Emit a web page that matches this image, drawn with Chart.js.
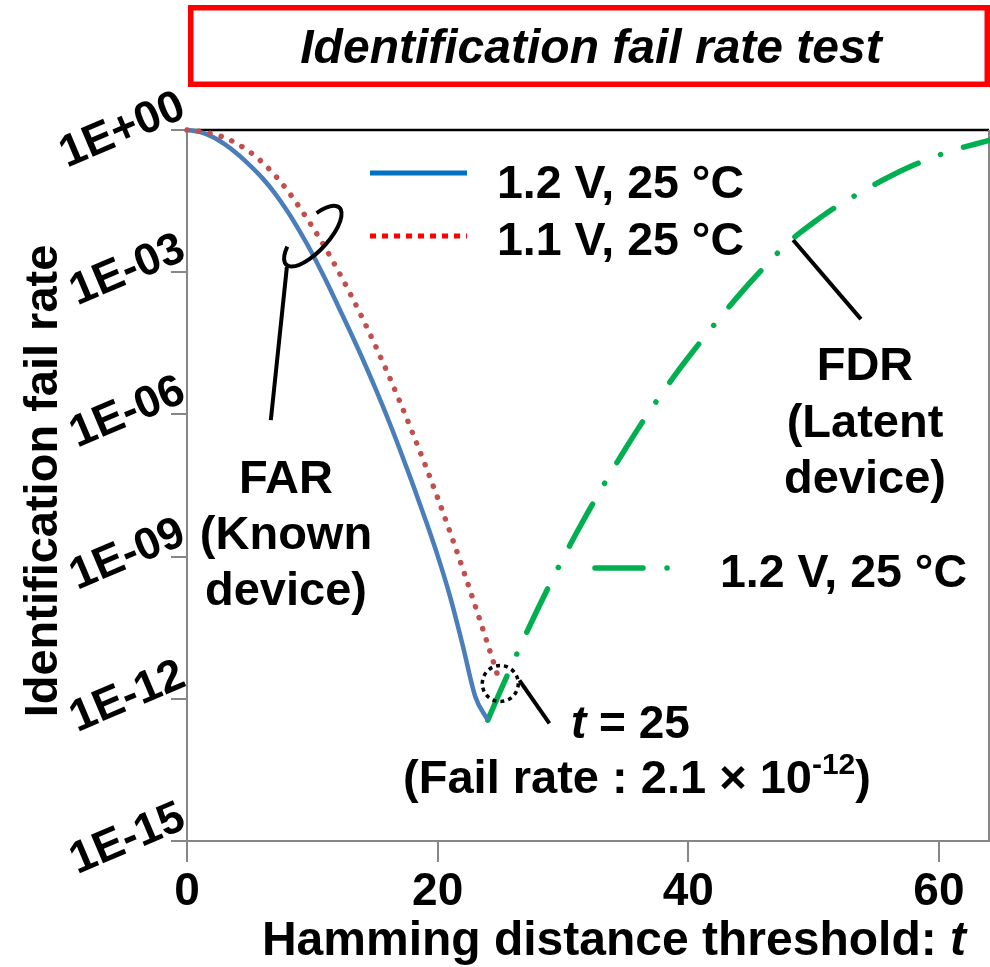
<!DOCTYPE html>
<html><head><meta charset="utf-8">
<script src="https://cdn.jsdelivr.net/npm/chart.js@4"></script>
<style>html,body{margin:0;padding:0;background:#fff;}canvas{display:block;}</style>
</head><body>
<canvas id="c" width="990" height="967"></canvas>
<script>
// ---- data (fail rates stored as log10 values) ----
const tFar12   = [0,1,2,3,4,5,6,7,8,9,10,11,12,13,14,15,16,17,18,19,20,21,22,23,24];
const logFar12 = [0,-0.04,-0.14,-0.3,-0.5,-0.74,-1.01,-1.33,-1.71,-2.14,-2.61,-3.13,-3.68,-4.24,-4.82,-5.43,-6.07,-6.75,-7.46,-8.2,-8.98,-9.85,-10.87,-11.95,-12.45];
const tFar11   = [0,1,2,3,4,5,6,7,8,9,10,11,12,13,14,15,16,17,18,19,20,21,22,23,24,25];
const logFar11 = [0,-0.03,-0.08,-0.16,-0.29,-0.46,-0.68,-0.95,-1.27,-1.64,-2.04,-2.47,-2.94,-3.44,-3.97,-4.53,-5.12,-5.74,-6.39,-7.06,-7.76,-8.49,-9.25,-10.04,-10.85,-11.68];
const tFdr12   = [24,25,26,27,28,29,30,31,32,33,34,35,36,37,38,39,40,41,42,43,44,45,46,47,48,49,50,51,52,53,54,55,56,57,58,59,60,61,62,63,64];
const logFdr12 = [-12.45,-11.84,-11.24,-10.66,-10.1,-9.56,-9.04,-8.54,-8.06,-7.6,-7.15,-6.72,-6.3,-5.9,-5.52,-5.15,-4.8,-4.46,-4.13,-3.81,-3.5,-3.2,-2.91,-2.63,-2.37,-2.15,-1.95,-1.76,-1.59,-1.43,-1.28,-1.13,-0.99,-0.86,-0.74,-0.63,-0.53,-0.44,-0.36,-0.29,-0.22];
const xTickValues = [0,20,40,60];
const xTickLabels = ['0','20','40','60'];
const yTickValues = [1,1e-3,1e-6,1e-9,1e-12,1e-15];
const yTickLabels = ['1E+00','1E-03','1E-06','1E-09','1E-12','1E-15'];
const seriesNames = ['1.2 V, 25 °C','1.1 V, 25 °C','1.2 V, 25 °C'];
const markT = 25, markRate = 2.1e-12;

const FONT = '"Liberation Sans", Arial, Helvetica, sans-serif';
const toPts = (ts, lg) => ts.map((t,i)=>({x:t, y:Math.pow(10, lg[i])}));

function seg(ctx,x1,y1,x2,y2){ctx.beginPath();ctx.moveTo(x1,y1);ctx.lineTo(x2,y2);ctx.stroke();}

const frame = {
  id:'frame',
  beforeDatasetsDraw(chart){
    const {ctx, chartArea:a} = chart;
    ctx.save();
    ctx.strokeStyle='#000'; ctx.lineWidth=2.5; seg(ctx,a.left,a.top,a.right,a.top);
    ctx.strokeStyle='#868686'; ctx.lineWidth=2; seg(ctx,a.right,a.top,a.right,a.bottom);
    ctx.restore();
  }
};

const annot = {
  id:'annot',
  afterDraw(chart){
    const {ctx, chartArea:a, scales:{x,y}} = chart;
    const P = (t, lg) => [x.getPixelForValue(t), y.getPixelForValue(Math.pow(10, lg))];
    ctx.save();
    ctx.fillStyle='#000';
    // Title box
    ctx.strokeStyle='#FF0000'; ctx.lineWidth=5.5;
    ctx.strokeRect(190.75,7.75,796.5,76.5);
    ctx.font='italic bold 48px '+FONT; ctx.textAlign='center'; ctx.textBaseline='alphabetic';
    ctx.fillText('Identification fail rate test', 591, 63);

    // Y axis title
    ctx.save(); ctx.translate(57,481); ctx.rotate(-Math.PI/2);
    ctx.font='bold 47px '+FONT; ctx.textAlign='center'; ctx.fillText('Identification fail rate',0,0);
    ctx.restore();

    // Y tick labels (rotated)
    ctx.font='bold 45px '+FONT;
    yTickValues.forEach((v,i)=>{
      const py = y.getPixelForValue(v);
      ctx.save(); ctx.translate(a.left-4, py-25); ctx.rotate(-23*Math.PI/180);
      ctx.textAlign='right'; ctx.textBaseline='middle';
      ctx.fillText(yTickLabels[i],0,0); ctx.restore();
    });

    // X tick labels
    ctx.font='bold 46px '+FONT; ctx.textAlign='center'; ctx.textBaseline='alphabetic';
    xTickValues.forEach((v,i)=>{ ctx.fillText(xTickLabels[i], x.getPixelForValue(v), 905); });

    // X title
    ctx.textAlign='left';
    const s1='Hamming distance threshold: ';
    ctx.font='bold 48px '+FONT; const w1=ctx.measureText(s1).width;
    ctx.font='italic bold 48px '+FONT; const w2=ctx.measureText('t').width;
    const x0 = 966 - w1 - w2;
    ctx.font='bold 48px '+FONT; ctx.fillText(s1,x0,955);
    ctx.font='italic bold 48px '+FONT; ctx.fillText('t',x0+w1,955);

    // Legend (upper)
    ctx.lineCap='butt';
    ctx.strokeStyle='#0070C0'; ctx.lineWidth=5; ctx.setLineDash([]); seg(ctx,370,173,467,173);
    ctx.strokeStyle='#FF0000'; ctx.setLineDash([6,6]); seg(ctx,370,236,467,236);
    ctx.setLineDash([]);
    ctx.font='bold 46.5px '+FONT; ctx.textAlign='left';
    ctx.fillText(seriesNames[0],497,198);
    ctx.fillText(seriesNames[1],497,255);
    // Legend (green)
    ctx.strokeStyle='#00B050'; ctx.lineWidth=5.5; ctx.lineCap='round'; ctx.setLineDash([48,24,0.1,24]);
    seg(ctx,595,568,690,568); ctx.setLineDash([]);
    ctx.fillText(seriesNames[2],720,587);

    // FAR / FDR text
    ctx.font='bold 47px '+FONT; ctx.textAlign='center';
    ctx.fillText('FAR',286,493); ctx.fillText('(Known',286,549); ctx.fillText('device)',286,605);
    ctx.fillText('FDR',865,380); ctx.fillText('(Latent',865,437); ctx.fillText('device)',865,493);

    // black annotation lines
    ctx.strokeStyle='#000'; ctx.lineWidth=4; ctx.lineCap='butt';
    let c = P(10.04,-2.24);
    ctx.beginPath(); ctx.ellipse(c[0],c[1],39,15,-47*Math.PI/180,-60*Math.PI/180,230*Math.PI/180); ctx.stroke();
    let p1=P(7.97,-2.89), p2=P(6.69,-6.12); seg(ctx,p1[0],p1[1],p2[0],p2[1]);
    p1=P(48.37,-2.32); p2=P(53.78,-3.99); seg(ctx,p1[0],p1[1],p2[0],p2[1]);
    p1=P(26.53,-11.61); p2=P(28.92,-12.52); seg(ctx,p1[0],p1[1],p2[0],p2[1]);
    // dotted circle at t=25
    const cx=x.getPixelForValue(markT), cy=y.getPixelForValue(markRate);
    ctx.lineWidth=3.5; ctx.setLineDash([4,4]);
    ctx.beginPath(); ctx.arc(cx,cy,18,0,Math.PI*2); ctx.stroke(); ctx.setLineDash([]);

    // t = 25 text
    ctx.textAlign='left';
    ctx.font='italic bold 46px '+FONT; ctx.fillText('t',571,738);
    const wt=ctx.measureText('t').width;
    ctx.font='bold 46px '+FONT; ctx.fillText(' = 25',571+wt,738);
    // (Fail rate : 2.1 × 10^-12)
    const f1='(Fail rate : 2.1 × 10';
    ctx.font='bold 47px '+FONT; const fw1=ctx.measureText(f1).width;
    ctx.font='bold 30px '+FONT; const fw2=ctx.measureText('-12').width;
    ctx.font='bold 47px '+FONT; const fw3=ctx.measureText(')').width;
    const fx = 637 - (fw1+fw2+fw3)/2;
    ctx.fillText(f1,fx,793);
    ctx.font='bold 30px '+FONT; ctx.fillText('-12',fx+fw1,774);
    ctx.font='bold 47px '+FONT; ctx.fillText(')',fx+fw1+fw2,793);
    ctx.restore();
  }
};

new Chart(document.getElementById('c'), {
  type:'line',
  data:{ datasets:[
    {label:'FAR '+seriesNames[1], data:toPts(tFar11,logFar11), borderColor:'#C0504D', borderWidth:5.5,
     borderDash:[0.1,11.5], borderCapStyle:'round', pointRadius:0, cubicInterpolationMode:'monotone', clip:false},
    {label:'FAR '+seriesNames[0], data:toPts(tFar12,logFar12), borderColor:'#4A7EBB', borderWidth:4.5,
     borderJoinStyle:'round', pointRadius:0, cubicInterpolationMode:'monotone', clip:false},
    {label:'FDR '+seriesNames[2], data:toPts(tFdr12,logFdr12), borderColor:'#00B050', borderWidth:5.5,
     borderDash:[48,24,0.1,24], borderCapStyle:'round', pointRadius:0, cubicInterpolationMode:'monotone', clip:false}
  ]},
  options:{
    responsive:false, devicePixelRatio:1, animation:false,
    layout:{padding:{left:171, top:130, right:1, bottom:105}},
    plugins:{legend:{display:false}, tooltip:{enabled:false}, title:{display:false}},
    scales:{
      x:{type:'linear', min:0, max:64,
         afterBuildTicks:(s)=>{ s.ticks = xTickValues.map(v=>({value:v})); },
         ticks:{display:false},
         grid:{drawOnChartArea:false, drawTicks:true, tickLength:21, color:'#868686', lineWidth:2},
         border:{display:true, color:'#868686', width:2}},
      y:{type:'logarithmic', min:1e-15, max:1,
         afterBuildTicks:(s)=>{ s.ticks = yTickValues.map(v=>({value:v})); },
         ticks:{display:false},
         grid:{drawOnChartArea:false, drawTicks:true, tickLength:16, color:'#868686', lineWidth:2},
         border:{display:true, color:'#868686', width:2}}
    }
  },
  plugins:[frame, annot]
});
</script>
</body></html>
